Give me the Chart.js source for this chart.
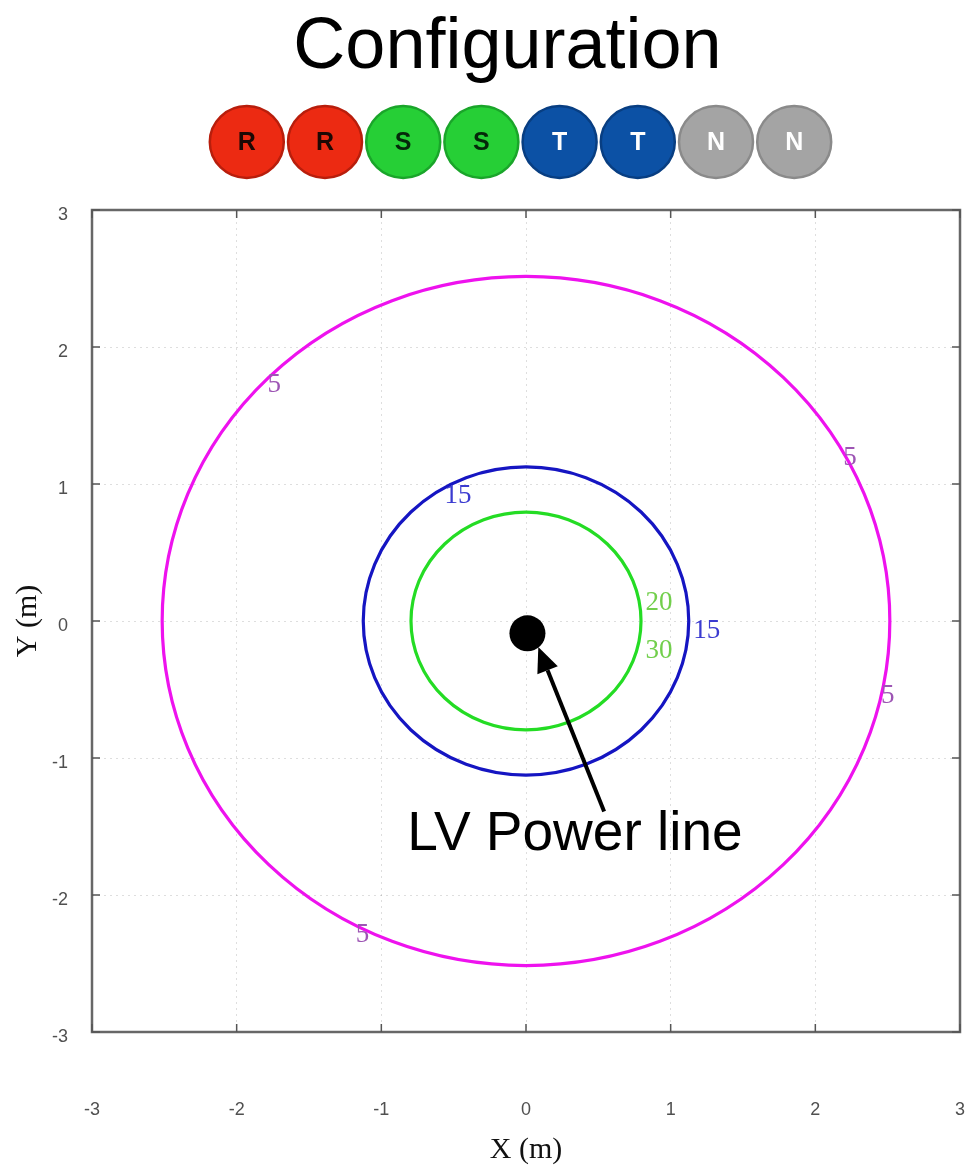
<!DOCTYPE html>
<html>
<head>
<meta charset="utf-8">
<script src="https://cdn.jsdelivr.net/npm/chart.js@4.4.1/dist/chart.umd.min.js"></script>
<style>
  html, body { margin: 0; padding: 0; background: #ffffff; }
  canvas { display: block; }
</style>
</head>
<body>
<canvas id="chart" width="968" height="1170"></canvas>
<script>
// Axis ticks (m)
const xTicks = [-3, -2, -1, 0, 1, 2, 3];
const yTicks = [-3, -2, -1, 0, 1, 2, 3];

// Conductor arrangement of the cable
const phases = ['R', 'R', 'S', 'S', 'T', 'T', 'N', 'N'];
const phaseFill = { R: '#ec2a12', S: '#26cf36', T: '#0c51a5', N: '#a4a4a4' };
const phaseRim  = { R: '#b81e0c', S: '#1aa52a', T: '#083e82', N: '#8a8a8a' };
const phaseInk  = { R: '#1c0804', S: '#05280a', T: '#ffffff', N: '#ffffff' };

// Field contours: level and ring radius (m) around the line
const contourLevels = [5, 15, 30];
const contourRadius = [2.515, 1.125, 0.795];
const contourColors = ['#ee12ee', '#1515c2', '#24dc24'];

// Inline contour labels
const labelText   = ['5', '5', '5', '5', '15', '15', '20', '30'];
const labelX      = [-1.74, 2.24, 2.50, -1.13, -0.47, 1.25, 0.92, 0.92];
const labelY      = [1.72, 1.19, -0.55, -2.29, 0.91, -0.07, 0.13, -0.22];
const labelColors = ['#9d55b4', '#9d55b4', '#9d55b4', '#9d55b4', '#3b3bd0', '#3b3bd0', '#72cf4c', '#72cf4c'];

// LV power line position (m)
const lineX = [0.01];
const lineY = [-0.09];

// Callout arrow: tail then head (m)
const arrowX = [0.54, 0.085];
const arrowY = [-1.39, -0.19];
const calloutText = 'LV Power line';
const calloutX = -0.82;
const calloutY = -1.67;

const titleText = 'Configuration';

const contourPlugin = {
  id: 'contours',
  beforeDatasetsDraw(chart) {
    const { ctx, chartArea: a, scales: { x, y } } = chart;
    ctx.save();
    ctx.beginPath();
    ctx.rect(a.left, a.top, a.right - a.left, a.bottom - a.top);
    ctx.clip();
    contourRadius.forEach((r, i) => {
      const cx = x.getPixelForValue(0);
      const cy = y.getPixelForValue(0);
      const rx = Math.abs(x.getPixelForValue(r) - cx);
      const ry = Math.abs(y.getPixelForValue(r) - cy);
      ctx.beginPath();
      ctx.ellipse(cx, cy, rx, ry, 0, 0, Math.PI * 2);
      ctx.strokeStyle = contourColors[i];
      ctx.lineWidth = 3.2;
      ctx.stroke();
    });
    ctx.restore();
  }
};

const overlayPlugin = {
  id: 'overlay',
  afterDatasetsDraw(chart) {
    const { ctx, chartArea: a, scales: { x, y } } = chart;
    ctx.save();

    // contour labels
    ctx.font = '27px "Liberation Serif", "Times New Roman", serif';
    ctx.textAlign = 'center';
    ctx.textBaseline = 'middle';
    labelText.forEach((t, i) => {
      ctx.fillStyle = labelColors[i];
      ctx.fillText(t, x.getPixelForValue(labelX[i]), y.getPixelForValue(labelY[i]));
    });

    // callout arrow
    const x0 = x.getPixelForValue(arrowX[0]), y0 = y.getPixelForValue(arrowY[0]);
    const x1 = x.getPixelForValue(arrowX[1]), y1 = y.getPixelForValue(arrowY[1]);
    const ang = Math.atan2(y1 - y0, x1 - x0);
    const headLen = 25, headHalf = 11;
    const bx = x1 - headLen * Math.cos(ang), by = y1 - headLen * Math.sin(ang);
    ctx.strokeStyle = '#000';
    ctx.lineWidth = 4;
    ctx.beginPath();
    ctx.moveTo(x0, y0);
    ctx.lineTo(bx, by);
    ctx.stroke();
    ctx.fillStyle = '#000';
    ctx.beginPath();
    ctx.moveTo(x1, y1);
    ctx.lineTo(bx + headHalf * Math.sin(ang), by - headHalf * Math.cos(ang));
    ctx.lineTo(bx - headHalf * Math.sin(ang), by + headHalf * Math.cos(ang));
    ctx.closePath();
    ctx.fill();

    // callout text
    ctx.font = '55px "Liberation Sans", Arial, sans-serif';
    ctx.textAlign = 'left';
    ctx.textBaseline = 'alphabetic';
    ctx.fillText(calloutText, x.getPixelForValue(calloutX), y.getPixelForValue(calloutY));

    // axes box
    ctx.strokeStyle = '#676767';
    ctx.lineWidth = 2.5;
    ctx.strokeRect(a.left, a.top, a.right - a.left, a.bottom - a.top);

    // inward tick marks on all four sides
    ctx.lineWidth = 1.5;
    ctx.strokeStyle = '#555';
    const tl = 8;
    ctx.beginPath();
    xTicks.forEach(v => {
      const px = x.getPixelForValue(v);
      ctx.moveTo(px, a.bottom); ctx.lineTo(px, a.bottom - tl);
      ctx.moveTo(px, a.top); ctx.lineTo(px, a.top + tl);
    });
    yTicks.forEach(v => {
      const py = y.getPixelForValue(v);
      ctx.moveTo(a.left, py); ctx.lineTo(a.left + tl, py);
      ctx.moveTo(a.right, py); ctx.lineTo(a.right - tl, py);
    });
    ctx.stroke();

    // title
    ctx.fillStyle = '#000';
    ctx.font = '72px "Liberation Sans", Arial, sans-serif';
    ctx.textAlign = 'center';
    ctx.textBaseline = 'alphabetic';
    ctx.fillText(titleText, 507.5, 68);

    // conductor arrangement row under the title
    const cy = 142, r = 36, gap = 78.2;
    const startX = 520.5 - gap * (phases.length - 1) / 2;
    ctx.textBaseline = 'middle';
    ctx.font = 'bold 25px "Liberation Sans", Arial, sans-serif';
    phases.forEach((p, i) => {
      const cx = startX + i * gap;
      ctx.beginPath();
      ctx.ellipse(cx, cy, r + 1, r, 0, 0, Math.PI * 2);
      ctx.fillStyle = phaseFill[p];
      ctx.fill();
      ctx.lineWidth = 2.5;
      ctx.strokeStyle = phaseRim[p];
      ctx.stroke();
      ctx.fillStyle = phaseInk[p];
      ctx.fillText(p, cx, cy + 1);
    });

    ctx.restore();
  }
};

const tickFont = { family: '"Liberation Sans", Arial, sans-serif', size: 18 };
const axisTitleFont = { family: '"Liberation Serif", "Times New Roman", serif', size: 30 };

new Chart(document.getElementById('chart'), {
  type: 'scatter',
  data: {
    datasets: [{
      label: 'LV power line',
      data: lineX.map((v, i) => ({ x: v, y: lineY[i] })),
      backgroundColor: '#000000',
      borderColor: '#000000',
      borderWidth: 0,
      pointRadius: 18,
      pointHoverRadius: 18
    }]
  },
  options: {
    responsive: false,
    animation: false,
    events: [],
    layout: { autoPadding: false, padding: { top: 210, left: 0, right: 8, bottom: 0 } },
    plugins: {
      legend: { display: false },
      tooltip: { enabled: false },
      title: { display: false }
    },
    scales: {
      x: {
        type: 'linear',
        min: -3, max: 3,
        afterBuildTicks: s => { s.ticks = xTicks.map(v => ({ value: v })); },
        afterFit: s => { s.height = 138; },
        // tall line box drops the tick labels well below the frame
        ticks: { color: '#505050', font: { ...tickFont, lineHeight: '156px' }, padding: 0, maxRotation: 0 },
        grid: { color: 'rgba(0,0,0,0.13)', lineWidth: 1, drawTicks: false },
        border: { display: false, dash: [2, 4] },
        title: { display: true, text: 'X (m)', color: '#111', font: axisTitleFont, padding: { top: 0, bottom: 2 } }
      },
      y: {
        type: 'linear',
        min: -3, max: 3,
        afterBuildTicks: s => { s.ticks = yTicks.map(v => ({ value: v })); },
        afterFit: s => { s.width = 92; },
        ticks: { color: '#505050', font: tickFont, padding: 24, labelOffset: 5 },
        grid: { color: 'rgba(0,0,0,0.13)', lineWidth: 1, drawTicks: false },
        border: { display: false, dash: [2, 4] },
        title: { display: true, text: 'Y (m)', color: '#111', font: axisTitleFont, padding: { top: 10, bottom: 0 } }
      }
    }
  },
  plugins: [contourPlugin, overlayPlugin]
});
</script>
</body>
</html>
